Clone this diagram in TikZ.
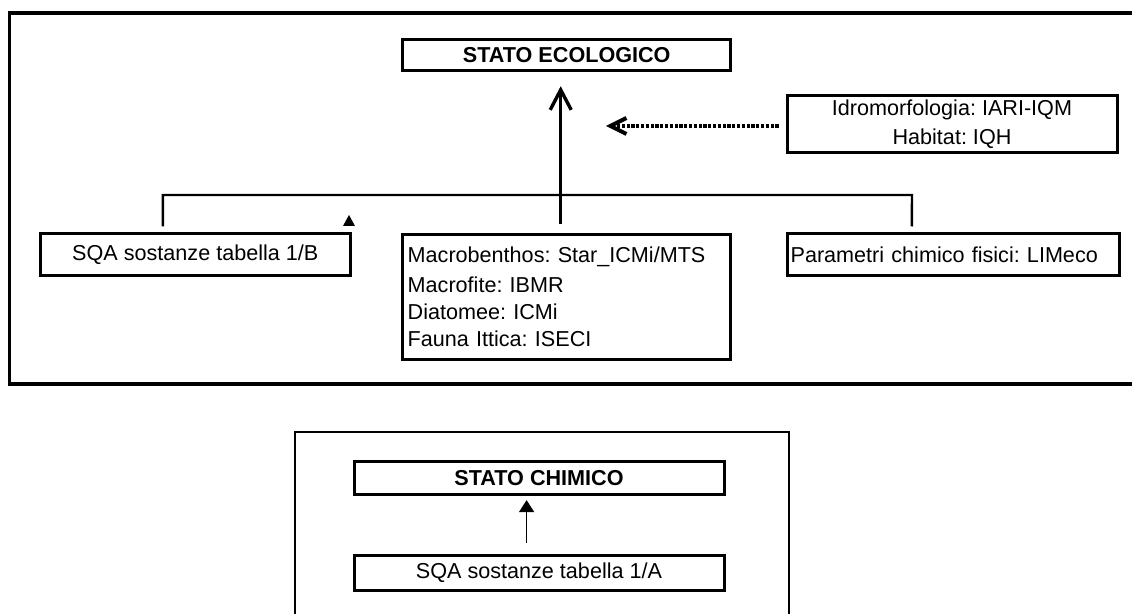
\documentclass[tikz,border=0pt]{standalone}
\usepackage{fontspec}
\setmainfont{Liberation Sans}
\usetikzlibrary{arrows.meta}
\frenchspacing

\tikzset{
  box/.style={draw, line width=1.5pt, inner xsep=0pt, inner ysep=0pt,
    font=\fontsize{10.8}{13.5}\selectfont},
  titlebox/.style={box, font=\fontsize{10.8}{13}\selectfont\bfseries},
  link/.style={line width=1.2pt},
  frame/.style={line width=1.8pt}
}

\begin{document}
\begin{tikzpicture}[x=0.5pt, y=-0.5pt,
    upArrow/.style={line width=1.6pt, -{Straight Barb[length=10pt, width=10.5pt, line width=1.7pt]}},
    dotArrow/.style={line width=1.7pt, dash pattern=on 1.6pt off 0.8pt,
      -{Straight Barb[length=8pt, width=8pt, line width=2pt]}},
    chemArrow/.style={line width=0.7pt, -{Triangle[length=6pt, width=7.5pt]}}]
    \useasboundingbox (0,0) rectangle (1132,614);

    % stato ecologico
    \draw[frame] (1132,13) -- (9.5,13) -- (9.5,384) -- (1132,384);
    \node[titlebox, minimum width=164pt, minimum height=15.7pt] (ecologico) at (566.7,55) {STATO ECOLOGICO};
    \node[box, minimum width=155.3pt, minimum height=21pt] (sqab) at (195.3,255) {SQA sostanze tabella 1/B};
    \node[box, text width=159pt, inner xsep=2.5pt, minimum height=62.6pt, align=left] (bio) at (566.7,296.7)
      {Macrobenthos: Star\_ICMi/MTS\\[1.5pt] Macrofite: IBMR\\ Diatomee: ICMi\\ Fauna Ittica: ISECI};
    \node[box, text width=162.4pt, inner xsep=1.8pt, minimum height=21pt, align=left] (limeco) at (953,255)
      {Parametri chimico fisici: LIMeco};
    \node[box, minimum width=165pt, minimum height=28.4pt, align=center,
      font=\fontsize{10.8}{14.2}\selectfont] (idro) at (952,124.4)
      {Idromorfologia: IARI-IQM\\ Habitat: IQH};

    \coordinate (barR) at (912,195);
    \coordinate (dotTip) at (606,126);
    \draw[link] ([xshift=-16.2pt,yshift=3pt]sqab.north) |- (barR) -- ([xshift=-20.6pt,yshift=3pt]limeco.north);
    \draw[upArrow] ([xshift=-3pt,yshift=4.5pt]bio.north) -- ([xshift=-3pt,yshift=-7pt]ecologico.south);
    \draw[dotArrow] ([xshift=-3.5pt,yshift=-0.8pt]idro.west) -- (dotTip);
    \fill (343,226) -- (355,226) -- (349,215) -- cycle;

    % stato chimico
    \draw[line width=0.9pt] (295,614) -- (295,431.7) -- (789,431.7) -- (789,614);
    \node[titlebox, minimum width=185pt, minimum height=16.2pt] (chimico) at (539,478) {STATO CHIMICO};
    \node[box, minimum width=185pt, minimum height=17.8pt] (sqaa) at (539,573) {SQA sostanze tabella 1/A};
    \draw[chemArrow] ([xshift=-6.2pt,yshift=5.5pt]sqaa.north) -- ([xshift=-6.2pt,yshift=-2.2pt]chimico.south);
\end{tikzpicture}
\end{document}
